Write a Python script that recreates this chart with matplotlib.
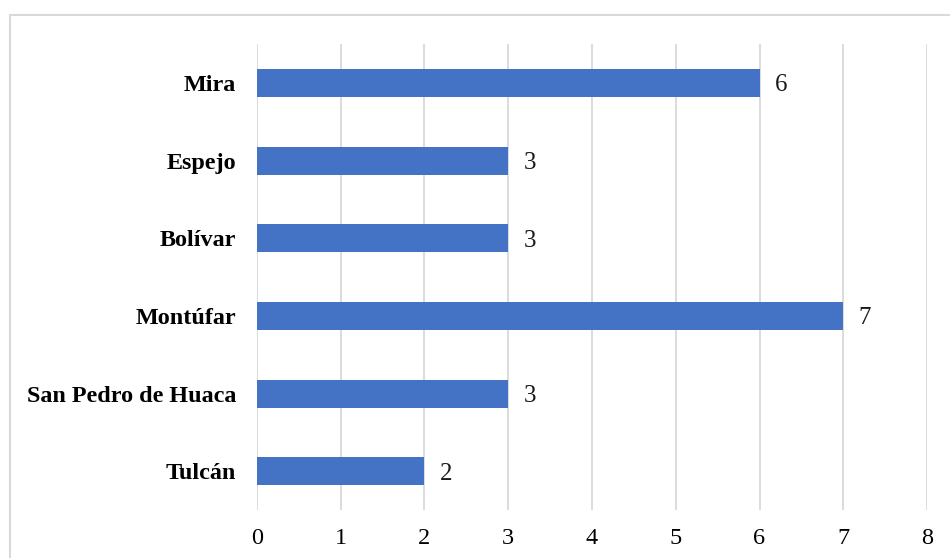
import matplotlib.pyplot as plt
from matplotlib.patches import Rectangle

# Data (top to bottom as shown)
cantones = ['Mira', 'Espejo', 'Bolívar', 'Montúfar', 'San Pedro de Huaca', 'Tulcán']
valores = [6, 3, 3, 7, 3, 2]

plt.rcParams['font.family'] = ['Liberation Serif', 'DejaVu Serif']

fig = plt.figure(figsize=(9.5, 5.58), dpi=100)
ax = fig.add_axes([0.2705, 0.086, 0.7053, 0.835])

y = list(range(len(cantones)))[::-1]
ax.barh(y, valores, height=0.36, color='#4472C4', zorder=3)

for yi, v in zip(y, valores):
    ax.text(v + 0.18, yi, str(v), va='center_baseline', ha='left', fontsize=18, color='#1a1a1a')

ax.set_xlim(0, 8)
ax.set_ylim(-0.5, len(cantones) - 0.5)
ax.set_xticks(range(0, 9))
ax.set_yticks(y)
ax.set_yticklabels(cantones, fontsize=17.4, fontweight='bold')
ax.tick_params(axis='x', labelsize=17.5, length=0, pad=13)
ax.tick_params(axis='y', length=0, pad=15)
ax.grid(axis='x', color='#D9D9D9', linewidth=1.3, zorder=0)
for s in ax.spines.values():
    s.set_visible(False)

# chart border
fig.patches.append(Rectangle((10 / 950, -0.05), 1.0, (558 - 15) / 558 + 0.05,
                             transform=fig.transFigure, fill=False,
                             edgecolor='#D9D9D9', linewidth=1.5))

fig.savefig('out.png', dpi=100)
